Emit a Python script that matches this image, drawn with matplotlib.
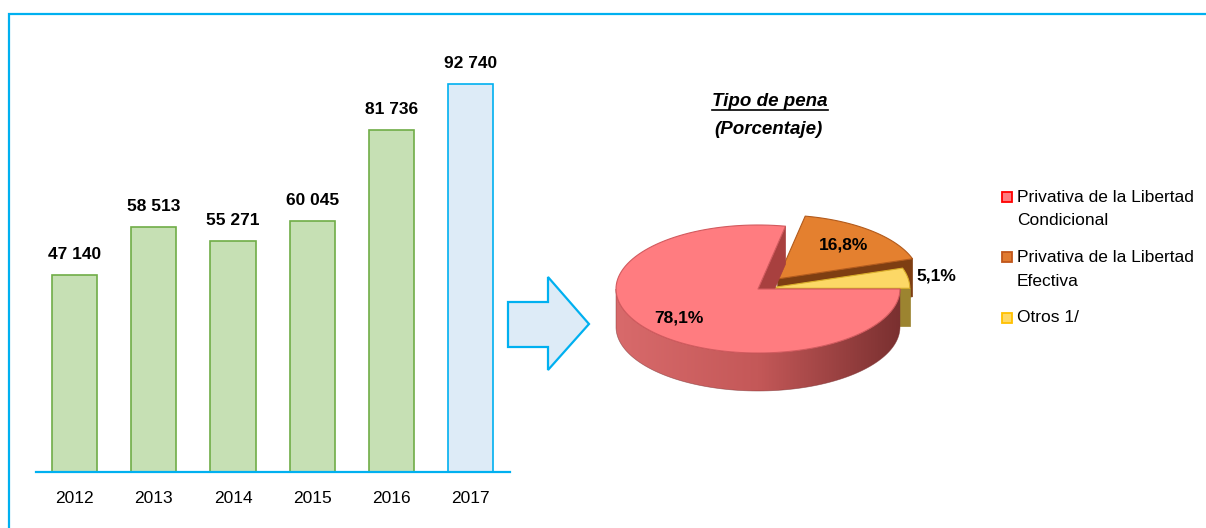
import numpy as np
import matplotlib
matplotlib.use("Agg")
import matplotlib.pyplot as plt
from matplotlib.patches import Polygon, Rectangle
from matplotlib.colors import LinearSegmentedColormap

plt.rcParams['font.family'] = ['Liberation Sans', 'DejaVu Sans']

# Data
years = ['2012', '2013', '2014', '2015', '2016', '2017']
totals = [47140, 58513, 55271, 60045, 81736, 92740]
total_labels = ['47 140', '58 513', '55 271', '60 045', '81 736', '92 740']

pena_labels = ['Privativa de la Libertad\nCondicional',
               'Privativa de la Libertad\nEfectiva',
               'Otros 1/']
pena_pct = [78.1, 16.8, 5.1]
pena_text = ['78,1%', '16,8%', '5,1%']

W, H = 1206, 528
blue = '#00B0F0'

fig = plt.figure(figsize=(W / 100, H / 100), dpi=100)

# overlay axes in pixel units (frame, arrow, pie, legend)
bg = fig.add_axes([0, 0, 1, 1])
bg.set_xlim(0, W)
bg.set_ylim(H, 0)
bg.axis('off')

bg.plot([9, 9, W], [H, 14, 14], color=blue, lw=1.6, solid_joinstyle='miter')

# arrow between the two charts
arrow = [(508, 302), (548, 302), (548, 277), (589, 324), (548, 370), (548, 347), (508, 347)]
bg.add_patch(Polygon(arrow, closed=True, facecolor='#DDEBF7', edgecolor=blue, lw=1.6, joinstyle='miter'))

# ---------------- bar chart ----------------
ax_left, ax_right, ax_bottom = 36, 510, 472
ymax = 103000
px_per_unit = 388 / 92740
ax_top = ax_bottom - ymax * px_per_unit
ax = fig.add_axes([ax_left / W, 1 - ax_bottom / H, (ax_right - ax_left) / W, (ax_bottom - ax_top) / H])
ax.patch.set_alpha(0)

x = np.arange(len(years))
face = ['#C6E0B4'] * 5 + ['#DDEBF7']
edge = ['#70AD47'] * 5 + [blue]
ax.bar(x, totals, width=0.57, color=face, edgecolor=edge, linewidth=1.2)
for xi, v, t in zip(x, totals, total_labels):
    ax.annotate(t, (xi, v), xytext=(0, 11.5), textcoords='offset points',
                ha='center', va='baseline', fontsize=12.5, fontweight='bold')

ax.set_xlim(-0.49, 5.5)
ax.set_ylim(0, ymax)
for s in ['top', 'right', 'left']:
    ax.spines[s].set_visible(False)
ax.spines['bottom'].set_color(blue)
ax.spines['bottom'].set_linewidth(1.6)
ax.set_yticks([])
ax.set_xticks(x)
ax.set_xticklabels(years, fontsize=12.5)
ax.tick_params(axis='x', length=0, pad=14)

# ---------------- 3D pie ----------------
cx, cy, rx, ry, depth = 758, 289, 142, 64, 38
explode = [0, 0.21, 0.07]
top_col = ['#FF7C80', '#E4802F', '#FCD866']
top_edge = ['#D25A5E', '#B25A1C', '#D9AE2A']
face_col = ['#A8403F', '#7E3E12', '#9C8430']
wall_cols = [['#D86A6B', '#C45858', '#7A3030'],
             ['#C06A28', '#A05420', '#7E3E12'],
             ['#D8B44A', '#B89838', '#8A7228']]
label_r = [0.72, 0.7, 1.2]

fr = np.array(pena_pct) / sum(pena_pct)
ends = -360 * np.cumsum(fr)
starts = np.concatenate([[0], ends[:-1]])
lo = ends + 360
hi = starts + 360
mid = (lo + hi) / 2


def pt(t, ox, oy, r=1.0, dz=0.0):
    a = np.radians(t)
    return (cx + ox + r * rx * np.cos(a), cy - oy - r * ry * np.sin(a) + dz)


z = 2.0
order = np.argsort(-np.sin(np.radians(mid)))
for i in order:
    a = np.radians(mid[i])
    ox = explode[i] * rx * np.cos(a)
    oy = explode[i] * ry * np.sin(a)

    # front outer wall, shaded left to right
    w0, w1 = max(lo[i], 180), min(hi[i], 360)
    if w1 > w0:
        steps = np.linspace(w0, w1, 120)
        wall = [pt(t, ox, oy) for t in steps] + [pt(t, ox, oy, dz=depth) for t in steps[::-1]]
        wp = Polygon(wall, closed=True, facecolor='none', edgecolor='none')
        bg.add_patch(wp)
        cmap = LinearSegmentedColormap.from_list('wall', wall_cols[i])
        grad = np.linspace(0, 1, 256).reshape(1, -1)
        x0w, x1w = cx + ox - rx, cx + ox + rx
        im = bg.imshow(grad, cmap=cmap, aspect='auto', interpolation='bilinear',
                       extent=(x0w, x1w, cy - oy + ry + depth + 2, cy - oy - 2), zorder=z)
        im.set_clip_path(wp)
        z += 0.01
        bg.add_patch(Polygon(wall, closed=True, facecolor='none', edgecolor=wall_cols[i][2],
                             lw=0.5, alpha=0.6, zorder=z))
        z += 0.01

    # cut faces that turn towards the viewer
    for ang, nrm in [(lo[i], lo[i] - 90), (hi[i], hi[i] + 90)]:
        if np.sin(np.radians(nrm)) < 0:
            quad = [pt(0, ox, oy, r=0), pt(ang, ox, oy),
                    pt(ang, ox, oy, dz=depth), pt(0, ox, oy, r=0, dz=depth)]
            bg.add_patch(Polygon(quad, closed=True, facecolor=face_col[i], zorder=z,
                                 edgecolor=face_col[i], lw=0.5, joinstyle='round'))
            z += 0.01

    # top surface
    arc = [pt(t, ox, oy) for t in np.linspace(lo[i], hi[i], 120)]
    bg.add_patch(Polygon([pt(0, ox, oy, r=0)] + arc, closed=True, joinstyle='round', zorder=z,
                         facecolor=top_col[i], edgecolor=top_edge[i], lw=0.8))
    z += 0.01

for i in range(len(pena_pct)):
    a = np.radians(mid[i])
    ox = explode[i] * rx * np.cos(a)
    oy = explode[i] * ry * np.sin(a)
    lx, ly = pt(mid[i], ox, oy, r=label_r[i])
    bg.text(lx, ly, pena_text[i], ha='center', va='center', fontsize=12.5,
            fontweight='bold', zorder=5)

bg.set_xlim(0, W)
bg.set_ylim(H, 0)

# title
t1 = bg.text(770, 102, 'Tipo de pena', ha='center', va='center', fontsize=13.5,
             fontweight='bold', fontstyle='italic')
bg.text(768, 130, '(Porcentaje)', ha='center', va='center', fontsize=13.5,
        fontweight='bold', fontstyle='italic')
fig.canvas.draw()
bb = t1.get_window_extent(fig.canvas.get_renderer())
(ux0, uy0), (ux1, uy1) = bg.transData.inverted().transform([[bb.x0, bb.y0], [bb.x1, bb.y1]])
bg.plot([ux0, ux1], [uy0 - 1, uy0 - 1], color='black', lw=1.2)

# legend
leg_face = ['#FF7C80', '#E07A30', '#FFD966']
leg_edge = ['#FF0000', '#C0561A', '#FFC000']
line_h = 23.5
y = 197
for lab, fc, ec in zip(pena_labels, leg_face, leg_edge):
    bg.add_patch(Rectangle((1002, y - 5.5), 10, 10, facecolor=fc, edgecolor=ec, lw=1.3))
    for j, line in enumerate(lab.split('\n')):
        bg.text(1017, y + j * line_h, line, ha='left', va='center', fontsize=12.5)
    y += len(lab.split('\n')) * line_h + 13.5

fig.savefig('out.png', dpi=100)
